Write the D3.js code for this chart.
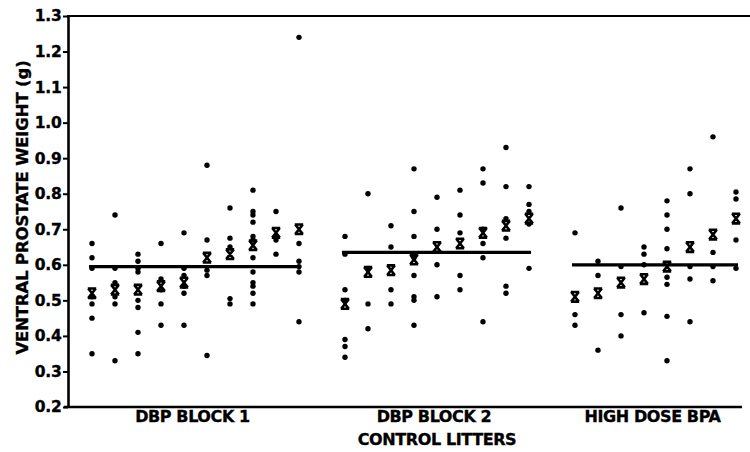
<!DOCTYPE html>
<html>
<head>
<meta charset="utf-8">
<script src="https://cdn.jsdelivr.net/npm/d3@7"></script>
<style>
  html, body { margin: 0; padding: 0; background: #fff; }
  svg { display: block; }
  text { font-family: "DejaVu Sans", sans-serif; font-weight: bold; fill: #000; stroke: #000; stroke-width: 0.35px; }
</style>
</head>
<body>
<svg id="chart" width="750" height="452"></svg>
<script>
// Group names shown under the axis
const groupLabels = ["DBP BLOCK 1", "DBP BLOCK 2", "HIGH DOSE BPA"];
const xTitle = "CONTROL LITTERS";
const yTitle = "VENTRAL PROSTATE WEIGHT (g)";
const yTicks = [0.2, 0.3, 0.4, 0.5, 0.6, 0.7, 0.8, 0.9, 1.0, 1.1, 1.2, 1.3];

// Individual ventral prostate weights (g), one array per control litter
const dbpBlock1 = [
  [0.66, 0.62, 0.59, 0.51, 0.49, 0.45, 0.35],
  [0.74, 0.59, 0.55, 0.51, 0.49, 0.33],
  [0.63, 0.61, 0.59, 0.58, 0.50, 0.48, 0.41, 0.35],
  [0.66, 0.56, 0.53, 0.49, 0.43],
  [0.69, 0.59, 0.57, 0.54, 0.52, 0.43],
  [0.88, 0.67, 0.585, 0.57, 0.345],
  [0.76, 0.675, 0.65, 0.505, 0.49],
  [0.81, 0.75, 0.74, 0.72, 0.68, 0.67, 0.62, 0.58, 0.55, 0.54, 0.52, 0.49],
  [0.75, 0.68, 0.67, 0.63],
  [1.24, 0.66, 0.61, 0.595, 0.58, 0.44]
];
const dbpBlock2 = [
  [0.68, 0.63, 0.53, 0.50, 0.39, 0.37, 0.34],
  [0.80, 0.59, 0.49, 0.42],
  [0.71, 0.65, 0.53, 0.49],
  [0.87, 0.75, 0.68, 0.62, 0.57, 0.51, 0.50, 0.43],
  [0.79, 0.70, 0.60, 0.51],
  [0.81, 0.74, 0.69, 0.57, 0.53],
  [0.87, 0.83, 0.70, 0.66, 0.62, 0.44],
  [0.93, 0.82, 0.73, 0.675, 0.54, 0.52],
  [0.82, 0.77, 0.75, 0.715, 0.59]
];
const highDoseBpa = [
  [0.69, 0.46, 0.43],
  [0.61, 0.57, 0.36],
  [0.76, 0.595, 0.46, 0.40],
  [0.65, 0.63, 0.60, 0.465],
  [0.78, 0.74, 0.70, 0.645, 0.565, 0.545, 0.455, 0.33],
  [0.87, 0.80, 0.595, 0.56, 0.44],
  [0.96, 0.635, 0.595, 0.555],
  [0.805, 0.785, 0.67, 0.59]
];

// Litter means (X marks)
const dbpBlock1Means = [0.52, 0.53, 0.53, 0.54, 0.55, 0.62, 0.63, 0.655, 0.69, 0.70];
const dbpBlock2Means = [0.49, 0.58, 0.585, 0.615, 0.65, 0.66, 0.69, 0.71, 0.73];
const highDoseBpaMeans = [0.51, 0.52, 0.55, 0.56, 0.595, 0.65, 0.685, 0.73];

// Overall control mean for each block (horizontal bars)
const groupMeans = [0.595, 0.635, 0.60];

const litterSets = [dbpBlock1, dbpBlock2, highDoseBpa];
const meanSets = [dbpBlock1Means, dbpBlock2Means, highDoseBpaMeans];

// Lay litters out one slot apart, leaving one empty slot between blocks
const groups = [];
let slot = 0;
litterSets.forEach((litters, gi) => {
  const slots = litters.map(() => slot++);
  groups.push({ label: groupLabels[gi], litters, means: meanSets[gi], slots, mean: groupMeans[gi] });
  slot += 1;
});
const lastSlot = slot - 2;

const svg = d3.select("#chart");
const x = d3.scaleLinear().domain([0, lastSlot]).range([92, 736]);
const y = d3.scaleLinear().domain([0.2, 1.3]).range([407, 16]);

// Frame: top rule and bottom axis line
svg.append("line")
  .attr("x1", 67).attr("x2", 750)
  .attr("y1", y(1.3)).attr("y2", y(1.3))
  .attr("stroke", "#000").attr("stroke-width", 2.2);
svg.append("line")
  .attr("x1", 64).attr("x2", 742)
  .attr("y1", y(0.2)).attr("y2", y(0.2))
  .attr("stroke", "#000").attr("stroke-width", 2.4);

// Y axis
const yAxis = svg.append("g")
  .attr("transform", "translate(68,0)")
  .call(d3.axisLeft(y).tickValues(yTicks).tickFormat(d3.format(".1f")).tickSize(5).tickSizeOuter(0).tickPadding(1.5));
yAxis.select(".domain").attr("stroke", "#000").attr("stroke-width", 2.6);
yAxis.selectAll(".tick line").attr("stroke", "#000").attr("stroke-width", 2);
yAxis.selectAll(".tick text")
  .attr("font-family", "DejaVu Sans, sans-serif")
  .attr("font-weight", "bold")
  .attr("font-size", 15.5)
  .attr("letter-spacing", -0.2)
  .attr("fill", "#000");

svg.append("text")
  .attr("transform", `translate(28,${(y(0.2) + y(1.3)) / 2 - 4}) rotate(-90)`)
  .attr("text-anchor", "middle")
  .attr("font-size", 16.5)
  .attr("letter-spacing", -0.15)
  .text(yTitle);

// Points, litter means and block means
const xMark = "M-3.8,-4.8L3.8,4.8M3.8,-4.8L-3.8,4.8M-4.2,-4.8H4.2M-4.2,4.8H4.2";

groups.forEach(g => {
  const pts = [];
  g.litters.forEach((vals, i) => vals.forEach(v => pts.push({ s: g.slots[i], v })));

  svg.append("line")
    .attr("x1", x(g.slots[0]) - 3)
    .attr("x2", x(g.slots[g.slots.length - 1]) + 2)
    .attr("y1", y(g.mean)).attr("y2", y(g.mean))
    .attr("stroke", "#000").attr("stroke-width", 3.2);

  svg.append("g").selectAll("circle").data(pts).join("circle")
    .attr("cx", d => x(d.s)).attr("cy", d => y(d.v))
    .attr("r", 2.7).attr("fill", "#000");

  svg.append("g").selectAll("path").data(g.means).join("path")
    .attr("transform", (m, i) => `translate(${x(g.slots[i])},${y(m)})`)
    .attr("d", xMark)
    .attr("fill", "none").attr("stroke", "#000").attr("stroke-width", 2.6);

  const cx = (x(g.slots[0]) + x(g.slots[g.slots.length - 1])) / 2;
  svg.append("text")
    .attr("x", cx - 3).attr("y", 422)
    .attr("text-anchor", "middle")
    .attr("font-size", 16)
    .attr("letter-spacing", -0.4)
    .text(g.label);
});

svg.append("text")
  .attr("x", (x(groups[1].slots[0]) + x(groups[1].slots[groups[1].slots.length - 1])) / 2)
  .attr("y", 445)
  .attr("text-anchor", "middle")
  .attr("font-size", 16)
  .attr("letter-spacing", -0.4)
  .text(xTitle);
</script>
</body>
</html>
